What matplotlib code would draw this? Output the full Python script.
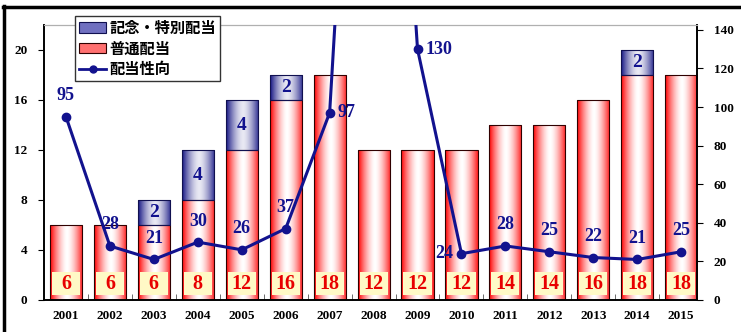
import numpy as np
import matplotlib
matplotlib.use("Agg")
import matplotlib.pyplot as plt
from matplotlib.patches import Rectangle, Patch
from matplotlib.lines import Line2D
from matplotlib.colors import LinearSegmentedColormap

years = ["2001", "2002", "2003", "2004", "2005", "2006", "2007", "2008",
         "2009", "2010", "2011", "2012", "2013", "2014", "2015"]
regular = [6, 6, 6, 8, 12, 16, 18, 12, 12, 12, 14, 14, 16, 18, 18]
special = [0, 0, 2, 4, 4, 2, 0, 0, 0, 0, 0, 0, 0, 2, 0]
payout = [95, 28, 21, 30, 26, 37, 97, 480, 130, 24, 28, 25, 22, 21, 25]
payout_shown = [True, True, True, True, True, True, True, False,
                True, True, True, True, True, True, True]
label_place = ["above", "above", "above", "above", "above", "above", "right", "none",
               "right", "left", "above", "above", "above", "above", "above"]

left_ticks = [0, 4, 8, 12, 16, 20]
right_ticks = [0, 20, 40, 60, 80, 100, 120, 140]
legend_labels = ["記念・特別配当", "普通配当", "配当性向"]

W, H = 741, 332
fig = plt.figure(figsize=(W / 100, H / 100), dpi=100)
fig.patch.set_facecolor("white")
ax = fig.add_axes([44 / W, 1 - 300 / H, (697 - 44) / W, (300 - 25) / H])
ax2 = ax.twinx()

serif = "Liberation Serif"
cjk = ["Noto Sans CJK JP", "DejaVu Sans"]
navy = "#12128e"

x = np.arange(len(years))
bw = 0.73
ax.set_xlim(-0.5, 14.36)
ax.set_ylim(0, 22)
ax2.set_ylim(0, 142.5)

t = np.linspace(0, 1, 64)
prof = np.clip(1 - np.abs((t - 0.52) / 0.5) ** 1.6, 0, 1)
grad = prof[np.newaxis, :]
red_cmap = LinearSegmentedColormap.from_list("r", ["#ff1010", "#ffffff"])
blue_cmap = LinearSegmentedColormap.from_list("b", ["#22228a", "#ffffff"])

for xi, r, s in zip(x, regular, special):
    rect = Rectangle((xi - bw / 2, 0), bw, r, facecolor="none",
                     edgecolor="#300000", lw=0.8, zorder=3)
    ax.add_patch(rect)
    im = ax.imshow(grad, extent=[xi - bw / 2, xi + bw / 2, 0, r], aspect="auto",
                   cmap=red_cmap, vmin=0, vmax=1, zorder=2, interpolation="bilinear")
    im.set_clip_path(rect)
    if s > 0:
        rect2 = Rectangle((xi - bw / 2, r), bw, s, facecolor="none",
                          edgecolor="#101050", lw=0.8, zorder=3)
        ax.add_patch(rect2)
        im2 = ax.imshow(grad * 0.9, extent=[xi - bw / 2, xi + bw / 2, r, r + s],
                        aspect="auto", cmap=blue_cmap, vmin=0, vmax=1, zorder=2,
                        interpolation="bilinear")
        im2.set_clip_path(rect2)
        ax.text(xi, r + s / 2, str(s), ha="center", va="center", color=navy,
                fontsize=14, fontweight="bold", family=serif, zorder=5)
    # value box at bottom
    ax.add_patch(Rectangle((xi - 0.32, 0.4), 0.64, 1.84, facecolor="#fff9c6",
                           edgecolor="none", zorder=4))
    ax.text(xi, 1.3, str(r), ha="center", va="center", color="#e80000",
            fontsize=14.5, fontweight="bold", family=serif, zorder=5)

ax.set_xticks(x)
ax.set_xticklabels(years, fontsize=9.5, fontweight="bold", family=serif)
ax.tick_params(axis="x", length=0, pad=7)
ax.set_xticks(x[:-1] + 0.5, minor=True)
ax.tick_params(axis="x", which="minor", length=4, direction="in", color="#555555")
ax.set_yticks(left_ticks)
ax.set_yticklabels([str(v) for v in left_ticks], fontsize=9.5, fontweight="bold", family=serif)
ax.tick_params(axis="y", length=4, direction="out", pad=8)

ax2.set_yticks(right_ticks)
ax2.set_yticklabels([str(v) for v in right_ticks], fontsize=9.5, fontweight="bold", family=serif)
ax2.tick_params(axis="y", length=4, direction="out", pad=8)

for a in (ax, ax2):
    a.spines["top"].set_color("#b0b0b0")
    a.spines["left"].set_linewidth(1.2)
    a.spines["right"].set_linewidth(1.2)
    a.spines["bottom"].set_linewidth(1.2)

ax2.plot(x, payout, color=navy, lw=2.2, marker="o", markersize=6, zorder=6,
         clip_on=True)

for xi, p, shown, place in zip(x, payout, payout_shown, label_place):
    if not shown:
        continue
    if place == "above":
        off, ha, va = (0, 9), "center", "bottom"
    elif place == "right":
        off, ha, va = (6, 0), "left", "center"
    else:
        off, ha, va = (-6, 0), "right", "center"
    ax2.annotate(str(p), (xi, p), xytext=off, textcoords="offset points",
                 ha=ha, va=va, color=navy, fontsize=13, fontweight="bold",
                 family=serif, zorder=7)

handles = [Patch(facecolor="#7070c0", edgecolor="#101050", lw=0.8),
           Patch(facecolor="#ff7070", edgecolor="#300000", lw=0.8),
           Line2D([0], [0], color=navy, lw=2, marker="o", markersize=5)]
leg = ax2.legend(handles, legend_labels, loc="upper left",
                 bbox_to_anchor=(75 / W, 1 - 16 / H), bbox_transform=fig.transFigure,
                 borderaxespad=0, frameon=True, fancybox=False, framealpha=1,
                 edgecolor="#333333", prop={"family": cjk, "weight": "bold", "size": 11},
                 handlelength=1.8, handletextpad=0.2, labelspacing=0.3,
                 borderpad=0.25)
leg.set_zorder(20)
leg.get_frame().set_linewidth(1.0)

# outer frame lines
fig.add_artist(Line2D([4 / W, 4 / W], [0, 1 - 6 / H], color="black", lw=2.5,
                      transform=fig.transFigure))
fig.add_artist(Line2D([3 / W, 1], [1 - 7 / H, 1 - 7 / H], color="black", lw=2.5,
                      transform=fig.transFigure))

fig.savefig("out.png", dpi=100)
